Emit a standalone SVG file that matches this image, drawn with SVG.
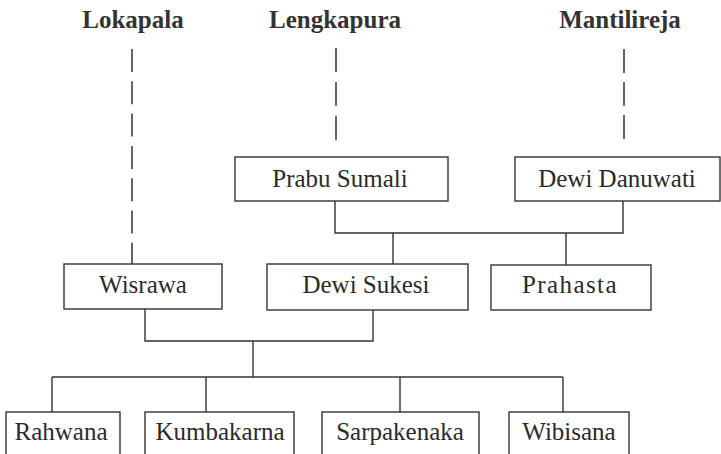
<svg xmlns="http://www.w3.org/2000/svg" width="721" height="454" viewBox="0 0 721 454">
<style>
.bg{fill:#ffffff}
.box{fill:#ffffff;stroke:#333333;stroke-width:1.4}
.ln{fill:none;stroke:#333333;stroke-width:1.4}
.dash{fill:none;stroke:#333333;stroke-width:1.5}
.t{font-family:"Liberation Serif","Times New Roman",serif;font-size:25px;fill:#2a2a2a;text-anchor:middle}
.h{font-family:"Liberation Serif","Times New Roman",serif;font-size:25px;font-weight:bold;fill:#333333;text-anchor:middle}
</style>
<rect class="bg" x="0" y="0" width="721" height="454"/>
<g id="connectors">
<line class="dash" x1="132" y1="49" x2="132" y2="264" stroke-dasharray="23 9.3"/>
<line class="dash" x1="336" y1="48" x2="336" y2="144" stroke-dasharray="24 10"/>
<line class="dash" x1="624" y1="49" x2="624" y2="145" stroke-dasharray="24 9"/>
<polyline class="ln" points="335,201 335,233 623,233 623,201"/>
<line class="ln" x1="393" y1="233" x2="393" y2="264"/>
<line class="ln" x1="566" y1="233" x2="566" y2="265"/>
<polyline class="ln" points="145,309 145,341 373,341 373,310"/>
<line class="ln" x1="253" y1="341" x2="253" y2="377"/>
<line class="ln" x1="52" y1="377" x2="563" y2="377"/>
<line class="ln" x1="52" y1="377" x2="52" y2="412"/>
<line class="ln" x1="206" y1="377" x2="206" y2="412"/>
<line class="ln" x1="400" y1="377" x2="400" y2="412"/>
<line class="ln" x1="563" y1="377" x2="563" y2="412"/>
</g>
<g id="lokapala"><text class="h" x="133" y="28">Lokapala</text></g>
<g id="lengkapura"><text class="h" x="335" y="28">Lengkapura</text></g>
<g id="mantilireja"><text class="h" x="620" y="28">Mantilireja</text></g>
<g id="prabu-sumali"><rect class="box" x="235" y="157" width="213" height="44"/><text class="t" x="340" y="187">Prabu Sumali</text></g>
<g id="dewi-danuwati"><rect class="box" x="515" y="157" width="205" height="44"/><text class="t" x="617" y="187">Dewi Danuwati</text></g>
<g id="wisrawa"><rect class="box" x="64" y="264" width="158" height="45"/><text class="t" x="143" y="293">Wisrawa</text></g>
<g id="dewi-sukesi"><rect class="box" x="267" y="264" width="201" height="46"/><text class="t" x="366" y="293">Dewi Sukesi</text></g>
<g id="prahasta"><rect class="box" x="491" y="265" width="160" height="45"/><text class="t" x="570" y="293" letter-spacing="1.4">Prahasta</text></g>
<g id="rahwana"><rect class="box" x="6" y="412" width="114" height="50"/><text class="t" x="61" y="440" font-size="26">Rahwana</text></g>
<g id="kumbakarna"><rect class="box" x="145" y="412" width="149" height="50"/><text class="t" x="220" y="440">Kumbakarna</text></g>
<g id="sarpakenaka"><rect class="box" x="322" y="412" width="157" height="50"/><text class="t" x="400" y="440" font-size="24.5">Sarpakenaka</text></g>
<g id="wibisana"><rect class="box" x="509" y="412" width="120" height="50"/><text class="t" x="569" y="440" font-size="24">Wibisana</text></g>
</svg>
